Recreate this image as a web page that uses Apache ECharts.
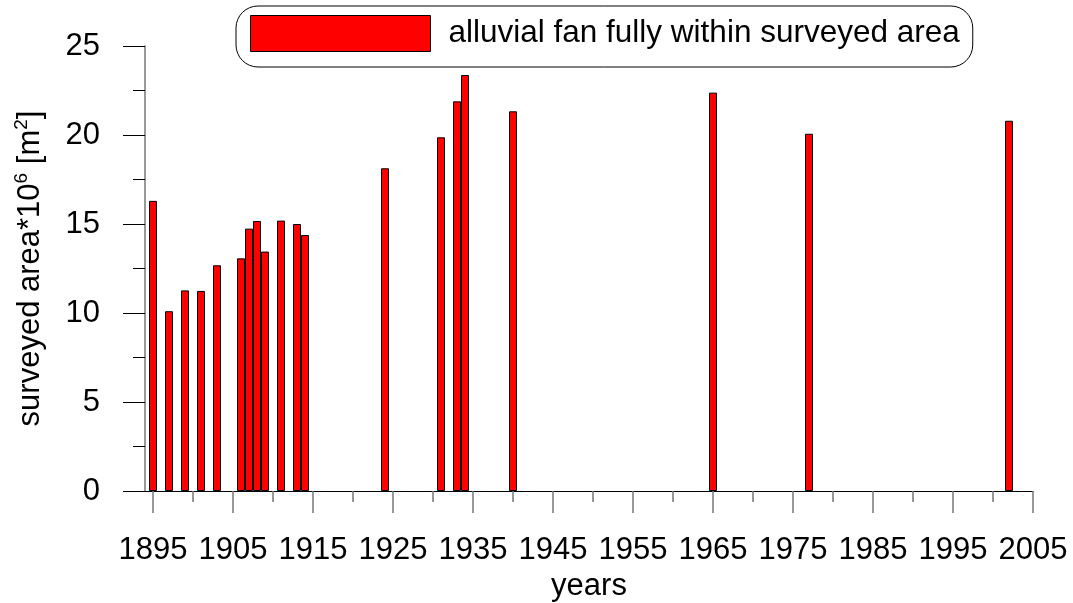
<!DOCTYPE html>
<html>
<head>
<meta charset="utf-8">
<script src="https://cdn.jsdelivr.net/npm/echarts@6/dist/echarts.min.js"></script>
<style>
html,body{margin:0;padding:0;background:#fff;}
#chart{width:1073px;height:603px;}
</style>
</head>
<body>
<div id="chart"></div>
<script>
const years = [1895, 1897, 1899, 1901, 1903, 1906, 1907, 1908, 1909, 1911, 1913, 1914, 1924, 1931, 1933, 1934, 1940, 1965, 1977, 2002];
const areaValues = [16.3, 10.1, 11.27, 11.24, 12.68, 13.07, 14.74, 15.17, 13.45, 15.19, 15.0, 14.38, 18.13, 19.87, 21.89, 23.37, 21.33, 22.38, 20.07, 20.8];
const majorTickYears = [1895, 1905, 1915, 1925, 1935, 1945, 1955, 1965, 1975, 1985, 1995, 2005];
const minorTickYears = [1900, 1910, 1920, 1930, 1940, 1950, 1960, 1970, 1980, 1990, 2000];
const seriesName = 'alluvial fan fully within surveyed area';

const FONT = 'Liberation Sans, Arial, sans-serif';
const FS = 31;
const chart = echarts.init(document.getElementById('chart'));
const gridPos = {left: 145, right: 40, top: 46, bottom: 112, containLabel: false, outerBoundsMode: 'none'};
chart.setOption({
  animation: false,
  backgroundColor: '#fff',
  textStyle: {fontFamily: FONT, color: '#000'},
  legend: {
    left: 236, top: 6,
    padding: [9, 13, 15, 14],
    borderColor: '#000', borderWidth: 1, borderRadius: 22,
    itemWidth: 180, itemHeight: 36,
    icon: 'rect',
    itemStyle: {borderColor: '#000', borderWidth: 1},
    textStyle: {fontSize: 31.5, color: '#000', fontFamily: FONT, padding: [0, 0, 0, 13], lineHeight: 36},
    data: [seriesName]
  },
  grid: [Object.assign({}, gridPos), Object.assign({}, gridPos)],
  xAxis: [{
    type: 'value', gridIndex: 0, min: 1894, max: 2005, position: 'bottom',
    name: 'years', nameLocation: 'middle', nameGap: 76,
    nameTextStyle: {fontSize: FS, color: '#000', fontFamily: FONT},
    axisLine: {show: true, lineStyle: {color: '#000', width: 1}},
    axisTick: {show: true, length: 22, customValues: majorTickYears, lineStyle: {color: '#777', width: 1.5}},
    axisLabel: {show: true, customValues: majorTickYears, margin: 44, fontSize: FS, color: '#000', fontFamily: FONT,
      formatter: v => String(v)},
    splitLine: {show: false}
  }, {
    type: 'value', gridIndex: 1, min: 1894, max: 2005, position: 'bottom',
    axisLine: {show: false},
    axisTick: {show: true, length: 11, customValues: minorTickYears, lineStyle: {color: '#777', width: 1.5}},
    axisLabel: {show: false},
    splitLine: {show: false}
  }],
  yAxis: [{
    type: 'value', gridIndex: 0, min: 0, max: 25, interval: 5,
    name: 'surveyed area*10{sup|6} [m{sup|2}]', nameLocation: 'middle', nameGap: 97,
    nameTextStyle: {fontSize: FS, color: '#000', fontFamily: FONT, lineHeight: 36,
      rich: {sup: {fontSize: 19, color: '#000', fontFamily: FONT, verticalAlign: 'top', lineHeight: 36, padding: [0, 0, 15, 0]}}},
    axisLine: {show: true, lineStyle: {color: '#777', width: 1.5}},
    axisTick: {show: true, length: 22, lineStyle: {color: '#000', width: 1}},
    minorTick: {show: true, splitNumber: 2, length: 12, lineStyle: {color: '#000', width: 1}},
    axisLabel: {margin: 45, fontSize: FS, color: '#000', fontFamily: FONT, formatter: v => String(v)},
    splitLine: {show: false}
  }, {
    type: 'value', gridIndex: 1, min: 0, max: 25, show: false
  }],
  series: [{
    name: seriesName,
    type: 'bar',
    xAxisIndex: 0, yAxisIndex: 0,
    barWidth: 8,
    itemStyle: {color: '#ff0000', borderColor: '#000', borderWidth: 1},
    data: years.map((y, i) => [y, areaValues[i]])
  }]
});
</script>
</body>
</html>
